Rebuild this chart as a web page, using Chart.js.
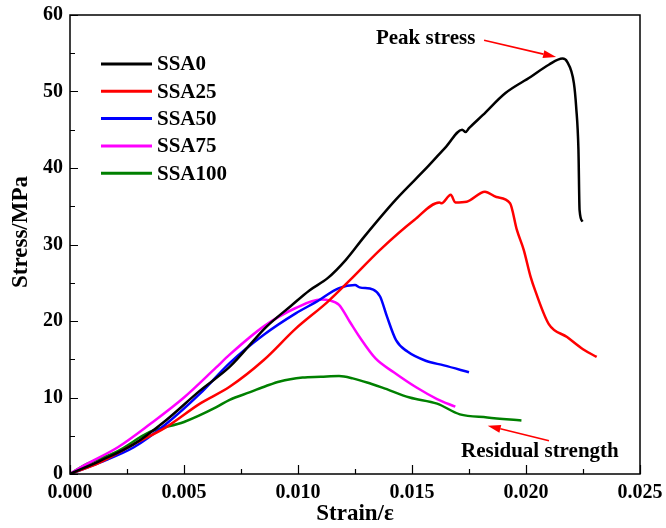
<!DOCTYPE html>
<html>
<head>
<meta charset="utf-8">
<script src="https://cdn.jsdelivr.net/npm/chart.js@4"></script>
<style>
  html, body { margin: 0; padding: 0; background: #fff; }
  canvas { display: block; }
</style>
</head>
<body>
<canvas id="c" width="666" height="528"></canvas>
<script>
// Stress-strain curves
const ssa0Strain   = [0, 0.0013, 0.0028, 0.0042, 0.0057, 0.0070, 0.0086, 0.0097, 0.0105, 0.0113, 0.0121, 0.0129, 0.0143, 0.0157, 0.0165, 0.0172, 0.01735, 0.0175, 0.0181, 0.0191, 0.0202, 0.0210, 0.0216, 0.0218, 0.0221, 0.0222, 0.0223, 0.02235, 0.02248];
const ssa0Stress   = [0, 1.7, 3.9, 7.0, 10.9, 14.0, 19.2, 22.0, 24.0, 25.6, 28.0, 31.0, 35.9, 40.2, 42.8, 45.0, 44.7, 45.2, 46.9, 49.8, 51.9, 53.5, 54.3, 53.9, 51.1, 48.0, 42.4, 34.5, 33.0];

const ssa25Strain  = [0, 0.0013, 0.0028, 0.0042, 0.0057, 0.0070, 0.0085, 0.0099, 0.0113, 0.0123, 0.0136, 0.0151, 0.0162, 0.0163, 0.0167, 0.0169, 0.0174, 0.0182, 0.0187, 0.0193, 0.0196, 0.0199, 0.0202, 0.0204, 0.0210, 0.0218, 0.0225, 0.0231];
const ssa25Stress  = [0, 1.5, 3.9, 6.1, 9.2, 11.4, 14.9, 19.0, 22.5, 25.4, 29.3, 33.2, 35.5, 35.4, 36.5, 35.5, 35.6, 36.9, 36.2, 35.4, 31.9, 29.3, 25.8, 24.0, 19.6, 17.9, 16.3, 15.3];

const ssa50Strain  = [0, 0.0013, 0.0028, 0.0042, 0.0057, 0.0070, 0.0085, 0.0099, 0.0108, 0.0118, 0.0125, 0.0127, 0.0133, 0.0136, 0.0139, 0.0143, 0.0148, 0.0156, 0.0164, 0.0175];
const ssa50Stress  = [0, 1.5, 3.5, 6.5, 10.5, 14.5, 18.2, 21.0, 22.5, 24.3, 24.7, 24.4, 24.1, 23.2, 20.6, 17.5, 16.0, 14.8, 14.2, 13.3];

const ssa75Strain  = [0, 0.0006, 0.0021, 0.0035, 0.0050, 0.0064, 0.0070, 0.0085, 0.0099, 0.0110, 0.0114, 0.0118, 0.01225, 0.0127, 0.0134, 0.0142, 0.0152, 0.0161, 0.0169];
const ssa75Stress  = [0, 1.1, 3.5, 6.5, 10.0, 13.9, 15.6, 19.3, 21.7, 22.8, 22.7, 22.1, 20.0, 17.9, 15.1, 13.3, 11.3, 9.8, 8.8];

const ssa100Strain = [0, 0.0006, 0.0021, 0.0035, 0.0050, 0.0064, 0.0070, 0.0079, 0.0086, 0.0092, 0.0102, 0.0110, 0.0118, 0.0124, 0.0132, 0.0137, 0.0149, 0.0161, 0.0171, 0.0183, 0.0198];
const ssa100Stress = [0, 1.1, 3.0, 5.5, 6.8, 8.7, 9.7, 10.7, 11.5, 12.1, 12.6, 12.7, 12.8, 12.5, 11.8, 11.3, 10.0, 9.2, 7.8, 7.4, 7.0];

const seriesNames  = ['SSA0', 'SSA25', 'SSA50', 'SSA75', 'SSA100'];
const seriesColors = ['#000000', '#ff0000', '#0000ff', '#ff00ff', '#008000'];

const xTicks = [0, 0.005, 0.010, 0.015, 0.020, 0.025];
const yTicks = [0, 10, 20, 30, 40, 50, 60];

const SERIF = '"Liberation Serif", "Times New Roman", serif';

const pairs = (xs, ys) => xs.map((x, i) => ({ x, y: ys[i] }));
const allData = [
    pairs(ssa0Strain, ssa0Stress),
    pairs(ssa25Strain, ssa25Stress),
    pairs(ssa50Strain, ssa50Stress),
    pairs(ssa75Strain, ssa75Stress),
    pairs(ssa100Strain, ssa100Stress)
];

// frame, inside ticks, legend, axis titles and the two arrows
const decorations = {
    id: 'decorations',
    afterDraw(chart) {
        const { ctx, chartArea: a, scales: { x, y } } = chart;
        ctx.save();

        // frame
        ctx.strokeStyle = '#000';
        ctx.lineWidth = 1.5;
        ctx.strokeRect(a.left, a.top, a.right - a.left, a.bottom - a.top);

        // inside ticks (major + minor), bottom and left only
        ctx.lineWidth = 1.2;
        ctx.beginPath();
        for (let v = 0; v <= 0.025 + 1e-9; v += 0.0025) {
            const px = Math.round(x.getPixelForValue(v)) + 0.5;
            const major = Math.abs(v / 0.005 - Math.round(v / 0.005)) < 1e-6;
            ctx.moveTo(px, a.bottom);
            ctx.lineTo(px, a.bottom - (major ? 9 : 5));
        }
        for (let v = 0; v <= 60; v += 5) {
            const py = Math.round(y.getPixelForValue(v)) + 0.5;
            const major = v % 10 === 0;
            ctx.moveTo(a.left, py);
            ctx.lineTo(a.left + (major ? 8 : 5), py);
        }
        ctx.stroke();

        // legend
        ctx.font = 'bold 21px ' + SERIF;
        ctx.textBaseline = 'middle';
        ctx.textAlign = 'left';
        chart.data.datasets.forEach((ds, i) => {
            const ly = a.top + 49 + i * 27.3;
            ctx.strokeStyle = ds.borderColor;
            ctx.lineWidth = 3;
            ctx.beginPath();
            ctx.moveTo(a.left + 31, ly);
            ctx.lineTo(a.left + 82, ly);
            ctx.stroke();
            ctx.fillStyle = '#000';
            ctx.fillText(ds.label, a.left + 87, ly + 1);
        });

        // axis titles
        ctx.fillStyle = '#000';
        ctx.font = 'bold 23px ' + SERIF;
        ctx.textAlign = 'center';
        ctx.textBaseline = 'middle';
        ctx.fillText('Strain/\u03b5', (a.left + a.right) / 2, 514);
        ctx.save();
        ctx.translate(21, 232);
        ctx.rotate(-Math.PI / 2);
        ctx.fillText('Stress/MPa', 0, 0);
        ctx.restore();

        // annotations
        const arrow = (x0, y0, x1, y1) => {
            const p0 = [x.getPixelForValue(x0), y.getPixelForValue(y0)];
            const p1 = [x.getPixelForValue(x1), y.getPixelForValue(y1)];
            const ang = Math.atan2(p1[1] - p0[1], p1[0] - p0[0]);
            const len = 13, wid = 4;
            const bx = p1[0] - len * Math.cos(ang), by = p1[1] - len * Math.sin(ang);
            ctx.strokeStyle = '#ff0000';
            ctx.fillStyle = '#ff0000';
            ctx.lineWidth = 1.6;
            ctx.beginPath();
            ctx.moveTo(p0[0], p0[1]);
            ctx.lineTo(bx, by);
            ctx.stroke();
            ctx.beginPath();
            ctx.moveTo(p1[0], p1[1]);
            ctx.lineTo(bx + wid * Math.sin(ang), by - wid * Math.cos(ang));
            ctx.lineTo(bx - wid * Math.sin(ang), by + wid * Math.cos(ang));
            ctx.closePath();
            ctx.fill();
        };
        ctx.font = 'bold 21px ' + SERIF;
        ctx.textAlign = 'left';
        ctx.textBaseline = 'alphabetic';
        ctx.fillStyle = '#000';
        ctx.fillText('Peak stress', x.getPixelForValue(0.01342), y.getPixelForValue(56.2));
        arrow(0.01816, 56.7, 0.02132, 54.5);
        ctx.fillStyle = '#000';
        ctx.fillText('Residual strength', x.getPixelForValue(0.01715), y.getPixelForValue(2.2));
        arrow(0.02101, 4.35, 0.01832, 6.31);

        ctx.restore();
    }
};

const tickFont = { family: SERIF, weight: 'bold', size: 20 };

new Chart(document.getElementById('c').getContext('2d'), {
    type: 'line',
    data: {
        datasets: allData.map((d, i) => ({
            label: seriesNames[i],
            data: d,
            borderColor: seriesColors[i],
            backgroundColor: seriesColors[i],
            borderWidth: 2.5,
            pointRadius: 0,
            fill: false,
            cubicInterpolationMode: 'monotone'
        }))
    },
    options: {
        responsive: false,
        animation: false,
        layout: { padding: { left: 0, top: 15, right: 26, bottom: 0 } },
        plugins: { legend: { display: false }, tooltip: { enabled: false } },
        scales: {
            x: {
                type: 'linear',
                min: 0, max: 0.025,
                afterBuildTicks: s => { s.ticks = xTicks.map(v => ({ value: v })); },
                afterFit: s => { s.height = 54; s.paddingLeft = 0; s.paddingRight = 0; },
                grid: { display: false, drawTicks: false },
                border: { display: false },
                ticks: {
                    padding: 7, color: '#000', font: tickFont, maxRotation: 0,
                    callback: v => Number(v).toFixed(3)
                }
            },
            y: {
                type: 'linear',
                min: 0, max: 60,
                afterBuildTicks: s => { s.ticks = yTicks.map(v => ({ value: v })); },
                afterFit: s => { s.width = 70; s.paddingTop = 0; s.paddingBottom = 0; },
                grid: { display: false, drawTicks: false },
                border: { display: false },
                ticks: { padding: 7, color: '#000', font: tickFont }
            }
        }
    },
    plugins: [decorations]
});
</script>
</body>
</html>
